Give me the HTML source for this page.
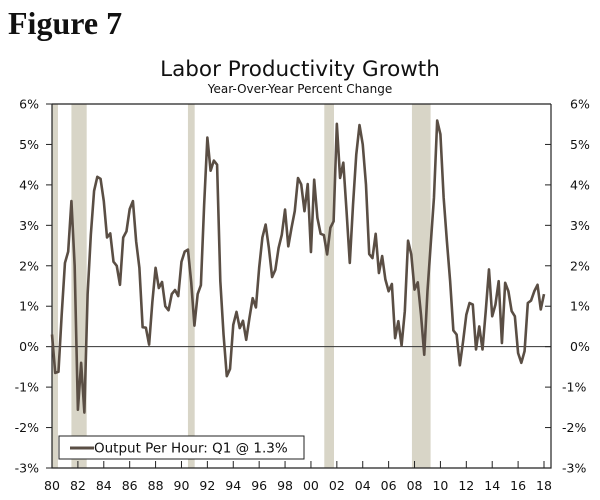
<!DOCTYPE html>
<html><head><meta charset="utf-8"><style>
body{margin:0;background:#fff;}
svg{display:block;font-family:"DejaVu Sans","Liberation Sans",sans-serif;}
</style></head><body>
<svg id="chart" width="600" height="500" viewBox="0 0 600 500">
<text x="8" y="34" font-family="Liberation Serif, serif" font-weight="bold" font-size="32" fill="#111">Figure 7</text>
<text x="300" y="76" text-anchor="middle" font-size="21.5" fill="#111">Labor Productivity Growth</text>
<text x="300" y="93" text-anchor="middle" font-size="12" fill="#111">Year-Over-Year Percent Change</text>
<g id="bands"></g><g id="axes"></g><g id="series"></g>
<g>
<rect x="59" y="436" width="245" height="23" fill="#fff" stroke="#222" stroke-width="1"/>
<line x1="70" y1="448" x2="94" y2="448" stroke="#5a4e44" stroke-width="3"/>
<text x="94" y="452.5" font-size="13.5" fill="#111">Output Per Hour: Q1 @ 1.3%</text>
</g>
</svg>
<script>
const startYear = 1980;
const values = [0.3,-0.65,-0.62,0.8,2.07,2.35,3.6,2.0,-1.56,-0.4,-1.63,1.29,2.77,3.85,4.2,4.15,3.6,2.7,2.8,2.1,2.0,1.53,2.7,2.85,3.4,3.6,2.6,1.95,0.48,0.47,0.05,1.1,1.95,1.45,1.6,1.0,0.9,1.3,1.4,1.25,2.1,2.35,2.4,1.6,0.52,1.3,1.52,3.5,5.17,4.35,4.6,4.5,
1.62,0.3,-0.73,-0.55,0.54,0.86,0.46,0.64,0.17,0.71,1.2,0.97,1.95,2.7,3.02,2.44,1.72,1.9,2.44,2.77,3.39,2.48,2.94,3.35,4.17,4.01,3.35,4.02,2.34,4.13,3.18,2.79,2.76,2.28,2.94,3.1,5.51,4.17,4.55,3.35,2.07,3.51,4.75,5.48,5.0,4.01,2.29,2.19,2.79,1.82,
2.24,1.66,1.37,1.55,0.21,0.63,0.03,0.88,2.62,2.28,1.41,1.59,0.79,-0.2,1.37,2.53,3.68,5.59,5.25,3.68,2.61,1.62,0.4,0.3,-0.46,0.13,0.79,1.08,1.04,-0.07,0.5,-0.07,0.88,1.91,0.75,1.04,1.62,0.09,1.58,1.37,0.88,0.75,-0.16,-0.4,-0.11,1.08,1.14,1.37,1.53,0.92,1.3];
const bandStarts = [1980.0,1981.5,1990.5,2001.03,2007.8];
const bandEnds = [1980.46,1982.68,1991.02,2001.78,2009.24];
const yTicks = [-3,-2,-1,0,1,2,3,4,5,6];
const xTicks = [1980,1982,1984,1986,1988,1990,1992,1994,1996,1998,2000,2002,2004,2006,2008,2010,2012,2014,2016,2018];

const NS="http://www.w3.org/2000/svg";
const X0=52,X1=544,Y0=468,Y1=104,AX_R=551;
const x=t=>X0+(t-1980)*(X1-X0)/38;
const y=v=>Y0-(v+3)*(Y0-Y1)/9;
function mk(tag,attrs,parent){const e=document.createElementNS(NS,tag);for(const k in attrs)e.setAttribute(k,attrs[k]);parent.appendChild(e);return e;}
const bands=document.getElementById('bands'),axes=document.getElementById('axes'),series=document.getElementById('series');
bandStarts.forEach((s,i)=>{
 const r=mk('rect',{x:x(s),y:Y1,width:x(bandEnds[i])-x(s),height:Y0-Y1,fill:'#d8d5c7'},bands);
 
 
});
const frame=mk('path',{d:`M${X0},${Y1}H${AX_R}M${X0},${Y1}V${Y0}H${AX_R}V${Y1}`,stroke:'#222',fill:'none','stroke-width':1.2},axes);


const zl=mk('line',{x1:X0,x2:AX_R,y1:y(0),y2:y(0),stroke:'#333','stroke-width':1},axes);


yTicks.forEach(v=>{
 mk('line',{x1:X0-6,x2:X0,y1:y(v),y2:y(v),stroke:'#222'},axes);
 mk('line',{x1:AX_R-6,x2:AX_R,y1:y(v),y2:y(v),stroke:'#222'},axes);
 const l=mk('text',{x:39,y:y(v)+4.5,'text-anchor':'end','font-size':12.5,fill:'#111'},axes);l.textContent=v+'%';
 
 
 const r=mk('text',{x:v<0?562:570,y:y(v)+4.5,'text-anchor':'start','font-size':12.5,fill:'#111'},axes);r.textContent=v+'%';
 
 
});
xTicks.forEach(t=>{
 mk('line',{x1:x(t),x2:x(t),y1:Y0,y2:Y0-7,stroke:'#222'},axes);
 const l=mk('text',{x:x(t),y:490,'text-anchor':'middle','font-size':12.5,fill:'#111'},axes);l.textContent=String(t%100).padStart(2,'0');
 
 
});
const d=values.map((v,i)=>(i?'L':'M')+x(startYear+i/4).toFixed(2)+','+y(v).toFixed(2)).join('');
const p=mk('path',{d:d,fill:'none',stroke:'#5a4e44','stroke-width':2.6,'stroke-linejoin':'round'},series);


</script>
</body></html>
